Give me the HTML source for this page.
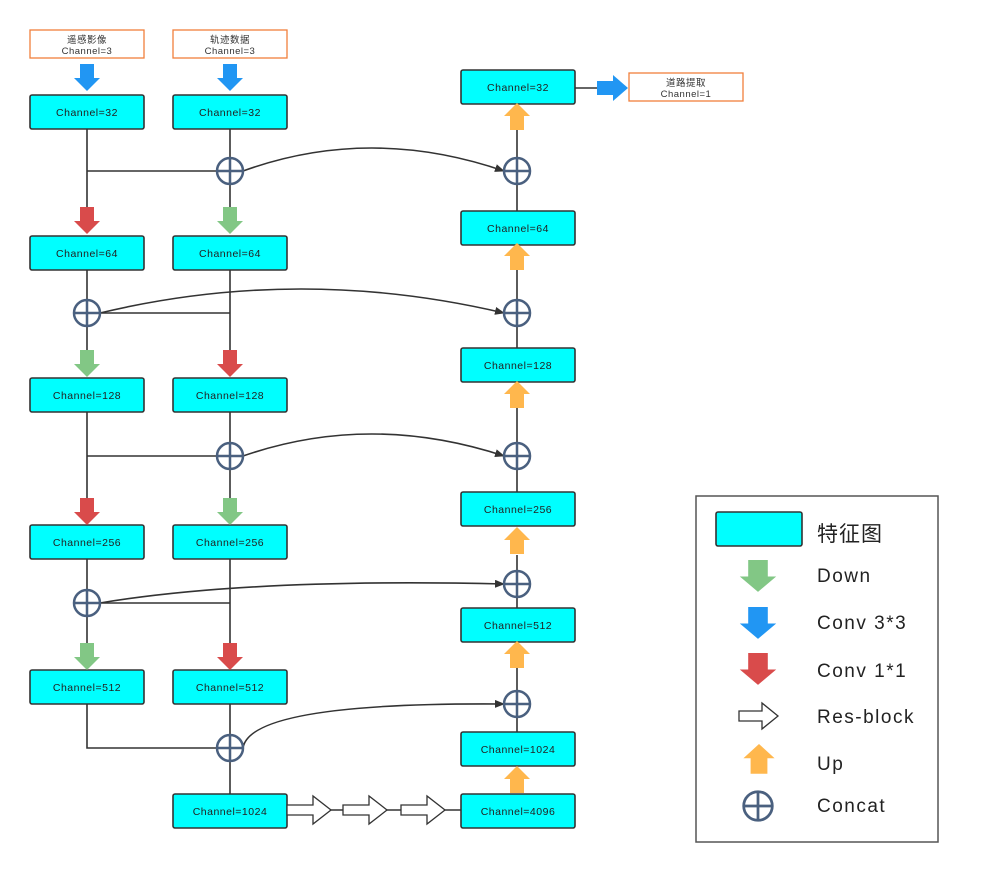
<!DOCTYPE html>
<html><head><meta charset="utf-8"><style>
html,body{margin:0;padding:0;background:#fff}
svg text{font-family:"Liberation Sans","Noto Sans CJK SC",sans-serif}
</style></head><body>
<svg width="994" height="865" viewBox="0 0 994 865" xmlns="http://www.w3.org/2000/svg">
<defs>
<path id="dn" d="M-7,0 H7 V14 H13 L0,27 L-13,14 H-7 Z"/>
<path id="up" d="M-7,27 H7 V13 H13 L0,0 L-13,13 H-7 Z"/>
<g id="cc"><circle r="13" fill="#fff" stroke="#4a607f" stroke-width="2.5"/><path d="M-13,0H13M0,-13V13" stroke="#4a607f" stroke-width="2.5"/></g>
<path id="res" d="M0,-5 H26 V-14 L44,0 L26,14 V5 H0 Z" fill="#fff" stroke="#333" stroke-width="1.3"/>
<marker id="ah" markerWidth="10" markerHeight="8" refX="9" refY="4" orient="auto" markerUnits="userSpaceOnUse"><path d="M0,0L10,4L0,8Z" fill="#333"/></marker>
</defs>
<g stroke="#333" stroke-width="1.6" fill="none">
<path d="M87,129V207M87,171H217"/>
<path d="M87,270V300M87,326V350M100,313H230"/>
<path d="M87,412V499M87,456H217"/>
<path d="M87,559V590M87,616V643M100,603H230"/>
<path d="M87,704V748H217"/>
<path d="M230,129V158M230,184V207"/>
<path d="M230,270V350"/>
<path d="M230,412V443M230,469V499"/>
<path d="M230,559V643"/>
<path d="M230,704V735M230,761V794"/>
<path d="M517,129V158M517,184V211"/>
<path d="M517,268V300M517,326V348"/>
<path d="M517,408V443M517,469V492"/>
<path d="M517,555V571M517,597V608"/>
<path d="M517,668V691M517,717V732"/>
<path d="M575,88H597"/>
<path d="M287,810H461"/>
<path d="M243,171 Q370,125 504,171" marker-end="url(#ah)"/>
<path d="M100,313 Q300,265 504,313" marker-end="url(#ah)"/>
<path d="M243,456 Q370,412 504,456" marker-end="url(#ah)"/>
<path d="M100,603 Q250,578 504,584" marker-end="url(#ah)"/>
<path d="M243,748 Q250,702 504,704" marker-end="url(#ah)"/>
</g>
<g fill="#fff" stroke="#f07f3c" stroke-width="1.3">
<rect x="30" y="30" width="114" height="28"/><rect x="173" y="30" width="114" height="28"/><rect x="629" y="73" width="114" height="28"/>
</g>
<g font-size="9.5" fill="#333" text-anchor="middle" letter-spacing="0.5">
<text x="87" y="43">遥感影像</text><text x="87" y="54">Channel=3</text>
<text x="230" y="43">轨迹数据</text><text x="230" y="54">Channel=3</text>
<text x="686" y="86">道路提取</text><text x="686" y="97">Channel=1</text>
</g>
<g fill="#00ffff" stroke="#333" stroke-width="1.6">
<rect x="30" y="95" width="114" height="34" rx="2"/><rect x="173" y="95" width="114" height="34" rx="2"/>
<rect x="30" y="236" width="114" height="34" rx="2"/><rect x="173" y="236" width="114" height="34" rx="2"/>
<rect x="30" y="378" width="114" height="34" rx="2"/><rect x="173" y="378" width="114" height="34" rx="2"/>
<rect x="30" y="525" width="114" height="34" rx="2"/><rect x="173" y="525" width="114" height="34" rx="2"/>
<rect x="30" y="670" width="114" height="34" rx="2"/><rect x="173" y="670" width="114" height="34" rx="2"/>
<rect x="173" y="794" width="114" height="34" rx="2"/>
<rect x="461" y="70" width="114" height="34" rx="2"/><rect x="461" y="211" width="114" height="34" rx="2"/>
<rect x="461" y="348" width="114" height="34" rx="2"/><rect x="461" y="492" width="114" height="34" rx="2"/>
<rect x="461" y="608" width="114" height="34" rx="2"/><rect x="461" y="732" width="114" height="34" rx="2"/>
<rect x="461" y="794" width="114" height="34" rx="2"/>
<rect x="716" y="512" width="86" height="34" rx="2"/>
</g>
<g font-size="10.5" fill="#222" text-anchor="middle" letter-spacing="0.5">
<text x="87" y="116">Channel=32</text><text x="230" y="116">Channel=32</text>
<text x="87" y="257">Channel=64</text><text x="230" y="257">Channel=64</text>
<text x="87" y="399">Channel=128</text><text x="230" y="399">Channel=128</text>
<text x="87" y="546">Channel=256</text><text x="230" y="546">Channel=256</text>
<text x="87" y="691">Channel=512</text><text x="230" y="691">Channel=512</text>
<text x="230" y="815">Channel=1024</text>
<text x="518" y="91">Channel=32</text><text x="518" y="232">Channel=64</text>
<text x="518" y="369">Channel=128</text><text x="518" y="513">Channel=256</text>
<text x="518" y="629">Channel=512</text><text x="518" y="753">Channel=1024</text>
<text x="518" y="815">Channel=4096</text>
</g>
<use href="#dn" x="87" y="64" fill="#2196f3"/><use href="#dn" x="230" y="64" fill="#2196f3"/>
<use href="#dn" x="87" y="207" fill="#d94b4b"/><use href="#dn" x="230" y="207" fill="#82c785"/>
<use href="#dn" x="87" y="350" fill="#82c785"/><use href="#dn" x="230" y="350" fill="#d94b4b"/>
<use href="#dn" x="87" y="498" fill="#d94b4b"/><use href="#dn" x="230" y="498" fill="#82c785"/>
<use href="#dn" x="87" y="643" fill="#82c785"/><use href="#dn" x="230" y="643" fill="#d94b4b"/>
<use href="#up" x="517" y="103" fill="#ffb74d"/><use href="#up" x="517" y="243" fill="#ffb74d"/>
<use href="#up" x="517" y="381" fill="#ffb74d"/><use href="#up" x="517" y="527" fill="#ffb74d"/>
<use href="#up" x="517" y="641" fill="#ffb74d"/><use href="#up" x="517" y="766" fill="#ffb74d"/>
<path d="M597,81H613V75L628,88L613,101V95H597Z" fill="#2196f3"/>
<use href="#res" x="287" y="810"/><use href="#res" x="343" y="810"/><use href="#res" x="401" y="810"/>
<use href="#cc" x="230" y="171"/><use href="#cc" x="87" y="313"/><use href="#cc" x="230" y="456"/>
<use href="#cc" x="87" y="603"/><use href="#cc" x="230" y="748"/>
<use href="#cc" x="517" y="171"/><use href="#cc" x="517" y="313"/><use href="#cc" x="517" y="456"/>
<use href="#cc" x="517" y="584"/><use href="#cc" x="517" y="704"/>
<rect x="696" y="496" width="242" height="346" fill="none" stroke="#555" stroke-width="1.5"/>
<use href="#dn" x="758" y="560" fill="#82c785" transform="translate(758,560) scale(1.4,1.18) translate(-758,-560)"/>
<use href="#dn" x="758" y="607" fill="#2196f3" transform="translate(758,607) scale(1.4,1.18) translate(-758,-607)"/>
<use href="#dn" x="758" y="653" fill="#d94b4b" transform="translate(758,653) scale(1.4,1.18) translate(-758,-653)"/>
<path d="M739,711H762V703L778,716L762,729V721H739Z" fill="#fff" stroke="#333" stroke-width="1.3"/>
<use href="#up" x="759" y="744" fill="#ffb74d" transform="translate(759,744) scale(1.2,1.1) translate(-759,-744)"/>
<g transform="translate(758,806) scale(1.1)"><use href="#cc"/></g>
<g font-size="19" fill="#222" letter-spacing="1.5">
<text x="817" y="541" font-size="21" letter-spacing="1">特征图</text>
<text x="817" y="582">Down</text>
<text x="817" y="629">Conv 3*3</text>
<text x="817" y="677">Conv 1*1</text>
<text x="817" y="723">Res-block</text>
<text x="817" y="770">Up</text>
<text x="817" y="812">Concat</text>
</g>
</svg>
</body></html>
